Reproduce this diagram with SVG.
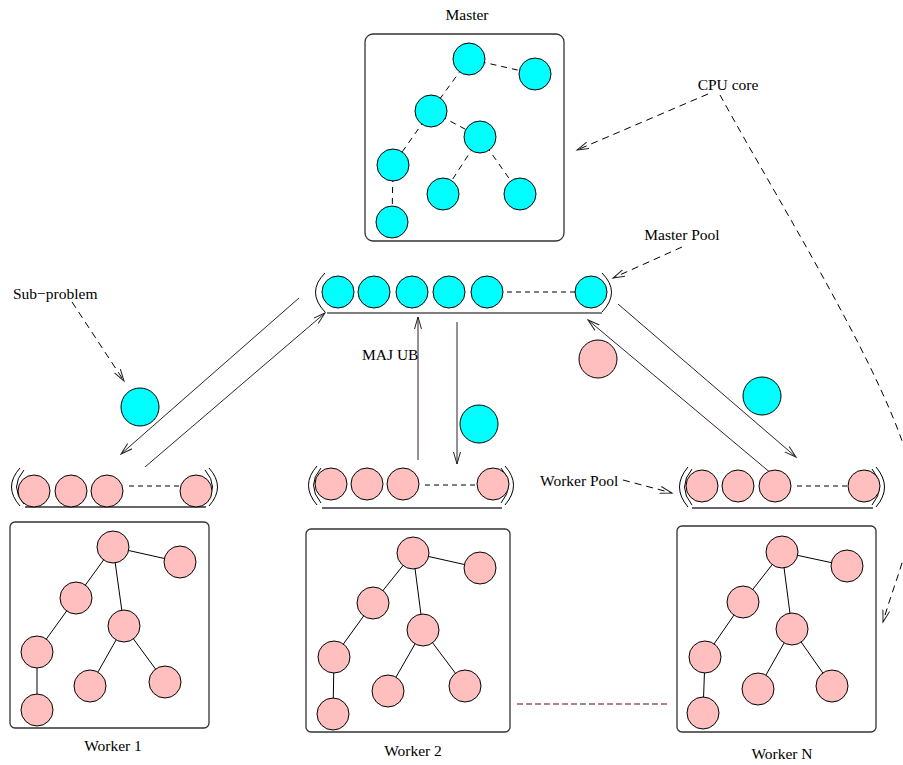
<svg xmlns="http://www.w3.org/2000/svg" width="903" height="765" viewBox="0 0 903 765">
<style>
text{font-family:"Liberation Serif","Times New Roman",serif;font-size:15.5px;fill:#000}
.box{fill:none;stroke:#333;stroke-width:1.3}
.c{fill:#00ffff;stroke:#000;stroke-width:1}
.p{fill:#ffbfbf;stroke:#000;stroke-width:1}
.tdash{stroke:#000;stroke-width:1;stroke-dasharray:6 5;fill:none}
.tsolid{stroke:#000;stroke-width:1;fill:none}
.pdash{stroke:#000;stroke-width:1;stroke-dasharray:5 4;fill:none}
.paren{fill:none;stroke:#000;stroke-width:1}
.wline{stroke:#666;stroke-width:1.8}
.arr{stroke:#332222;stroke-width:1;fill:none;marker-end:url(#ah)}
.darr{stroke:#000;stroke-width:1;stroke-dasharray:7 5;fill:none;marker-end:url(#ah)}
</style>
<defs>
<marker id="ah" markerUnits="userSpaceOnUse" markerWidth="14" markerHeight="10" refX="12" refY="4" orient="auto">
<path d="M0,0.5 L12,4 L0,7.5" fill="none" stroke="#222" stroke-width="1" stroke-dasharray="none"/>
</marker>
</defs>

<g id="connectors">
<line class="tdash" x1="469" y1="59" x2="535" y2="74"/>
<line class="tdash" x1="469" y1="59" x2="431" y2="111"/>
<line class="tdash" x1="431" y1="111" x2="480" y2="137"/>
<line class="tdash" x1="431" y1="111" x2="393" y2="165"/>
<line class="tdash" x1="480" y1="137" x2="443" y2="194"/>
<line class="tdash" x1="480" y1="137" x2="520" y2="194"/>
<line class="tdash" x1="393" y1="165" x2="392" y2="222"/>
<line class="tsolid" x1="113" y1="547" x2="180" y2="562"/>
<line class="tsolid" x1="113" y1="547" x2="76" y2="598"/>
<line class="tsolid" x1="113" y1="547" x2="124" y2="626"/>
<line class="tsolid" x1="76" y1="598" x2="37" y2="652"/>
<line class="tsolid" x1="124" y1="626" x2="90" y2="686"/>
<line class="tsolid" x1="124" y1="626" x2="165" y2="682"/>
<line class="tsolid" x1="37" y1="652" x2="37" y2="710"/>
<line class="tsolid" x1="413" y1="553" x2="480" y2="568"/>
<line class="tsolid" x1="413" y1="553" x2="373" y2="603"/>
<line class="tsolid" x1="413" y1="553" x2="423" y2="630"/>
<line class="tsolid" x1="373" y1="603" x2="334" y2="657"/>
<line class="tsolid" x1="423" y1="630" x2="388" y2="691"/>
<line class="tsolid" x1="423" y1="630" x2="465" y2="686"/>
<line class="tsolid" x1="334" y1="657" x2="333" y2="714"/>
<line class="tsolid" x1="782" y1="552" x2="847" y2="566"/>
<line class="tsolid" x1="782" y1="552" x2="743" y2="602"/>
<line class="tsolid" x1="782" y1="552" x2="792" y2="629"/>
<line class="tsolid" x1="743" y1="602" x2="705" y2="657"/>
<line class="tsolid" x1="792" y1="629" x2="758" y2="689"/>
<line class="tsolid" x1="792" y1="629" x2="832" y2="686"/>
<line class="tsolid" x1="705" y1="657" x2="703" y2="713"/>
<line class="pdash" x1="507" y1="292" x2="575" y2="292"/>
<line class="pdash" x1="129" y1="486" x2="180" y2="486"/>
<line class="pdash" x1="425" y1="485" x2="476" y2="485"/>
<line class="pdash" x1="797" y1="486" x2="848" y2="486"/>
<line class="arr" x1="299" y1="298" x2="121" y2="454"/>
<line class="arr" x1="145" y1="467" x2="325" y2="313"/>
<line class="arr" x1="418" y1="460" x2="418" y2="317"/>
<line class="arr" x1="457" y1="322" x2="457" y2="464"/>
<line class="arr" x1="618" y1="304" x2="796" y2="457"/>
<line class="arr" x1="772" y1="474" x2="588" y2="320"/>
<line class="darr" x1="708" y1="94" x2="577" y2="150"/>
<path class="darr" d="M720,95 C780,205 915,420 914,495 C914,540 895,580 883,622"/>
<line class="darr" x1="682" y1="247" x2="613" y2="278"/>
<line class="darr" x1="72" y1="302" x2="124" y2="381"/>
<path class="darr" d="M623,480 L672,493"/>
<line x1="517" y1="704" x2="668" y2="704" stroke="#5a0e0e" stroke-width="1.2" stroke-dasharray="6 3"/>
</g>

<g id="master">
<text x="467" y="20" text-anchor="middle">Master</text>
<rect class="box" x="365" y="34" width="199" height="207" rx="8"/>
<circle class="c" cx="469" cy="59" r="16"/>
<circle class="c" cx="535" cy="74" r="16"/>
<circle class="c" cx="431" cy="111" r="16"/>
<circle class="c" cx="480" cy="137" r="16"/>
<circle class="c" cx="393" cy="165" r="16"/>
<circle class="c" cx="443" cy="194" r="16"/>
<circle class="c" cx="520" cy="194" r="16"/>
<circle class="c" cx="392" cy="222" r="16"/>
</g>

<g id="master-pool">
<path class="paren" d="M325,273 Q306,292 325,312"/>
<path class="paren" d="M602,273 Q621,292 602,312"/>
<line x1="327" y1="313" x2="602" y2="313" stroke="#000" stroke-width="1.2"/>
<circle class="c" cx="338" cy="292" r="16"/>
<circle class="c" cx="374" cy="292" r="16"/>
<circle class="c" cx="412" cy="292" r="16"/>
<circle class="c" cx="449" cy="292" r="16"/>
<circle class="c" cx="487" cy="292" r="16"/>
<circle class="c" cx="591" cy="292" r="16"/>
</g>

<g id="worker1-pool">
<path class="paren" d="M20,468 Q3,487 20,506"/>
<path class="paren" d="M24,470 Q9,487 24,504"/>
<path class="paren" d="M209,468 Q226,487 209,506"/>
<path class="paren" d="M205,470 Q220,487 205,504"/>
<line class="wline" x1="25" y1="507" x2="206" y2="507"/>
<circle class="p" cx="34" cy="491" r="16"/>
<circle class="p" cx="71" cy="491" r="16"/>
<circle class="p" cx="107" cy="491" r="16"/>
<circle class="p" cx="196" cy="491" r="16"/>
</g>

<g id="worker2-pool">
<path class="paren" d="M317,466 Q300,485 317,505"/>
<path class="paren" d="M321,468 Q306,485 321,503"/>
<path class="paren" d="M505,466 Q522,485 505,505"/>
<path class="paren" d="M501,468 Q516,485 501,503"/>
<line class="wline" x1="322" y1="508" x2="502" y2="508"/>
<circle class="p" cx="331" cy="484" r="16"/>
<circle class="p" cx="367" cy="484" r="16"/>
<circle class="p" cx="403" cy="484" r="16"/>
<circle class="p" cx="493" cy="484" r="16"/>
</g>

<g id="workerN-pool">
<path class="paren" d="M688,467 Q671,487 688,507"/>
<path class="paren" d="M692,469 Q677,487 692,505"/>
<path class="paren" d="M876,467 Q893,487 876,507"/>
<path class="paren" d="M872,469 Q887,487 872,505"/>
<line class="wline" x1="692" y1="508" x2="873" y2="508"/>
<circle class="p" cx="702" cy="486" r="16"/>
<circle class="p" cx="738" cy="486" r="16"/>
<circle class="p" cx="775" cy="486" r="16"/>
<circle class="p" cx="864" cy="486" r="16"/>
</g>

<g id="worker1">
<rect class="box" x="10" y="522" width="199" height="206" rx="5"/>
<circle class="p" cx="113" cy="547" r="16"/>
<circle class="p" cx="180" cy="562" r="16"/>
<circle class="p" cx="76" cy="598" r="16"/>
<circle class="p" cx="124" cy="626" r="16"/>
<circle class="p" cx="37" cy="652" r="16"/>
<circle class="p" cx="90" cy="686" r="16"/>
<circle class="p" cx="165" cy="682" r="16"/>
<circle class="p" cx="37" cy="710" r="16"/>
<text x="113" y="751" text-anchor="middle">Worker 1</text>
</g>

<g id="worker2">
<rect class="box" x="306" y="529" width="204" height="203" rx="5"/>
<circle class="p" cx="413" cy="553" r="16"/>
<circle class="p" cx="480" cy="568" r="16"/>
<circle class="p" cx="373" cy="603" r="16"/>
<circle class="p" cx="423" cy="630" r="16"/>
<circle class="p" cx="334" cy="657" r="16"/>
<circle class="p" cx="388" cy="691" r="16"/>
<circle class="p" cx="465" cy="686" r="16"/>
<circle class="p" cx="333" cy="714" r="16"/>
<text x="413" y="756" text-anchor="middle">Worker 2</text>
</g>

<g id="workerN">
<rect class="box" x="677" y="526" width="199" height="206" rx="5"/>
<circle class="p" cx="782" cy="552" r="16"/>
<circle class="p" cx="847" cy="566" r="16"/>
<circle class="p" cx="743" cy="602" r="16"/>
<circle class="p" cx="792" cy="629" r="16"/>
<circle class="p" cx="705" cy="657" r="16"/>
<circle class="p" cx="758" cy="689" r="16"/>
<circle class="p" cx="832" cy="686" r="16"/>
<circle class="p" cx="703" cy="713" r="16"/>
<text x="782" y="759" text-anchor="middle">Worker N</text>
</g>

<g id="subproblem-tokens">
<circle class="c" cx="140" cy="407" r="19"/>
<circle class="c" cx="479" cy="424" r="19"/>
<circle class="p" cx="598" cy="359" r="19"/>
<circle class="c" cx="762" cy="396" r="19"/>
</g>

<g id="labels">
<text x="728" y="90" text-anchor="middle">CPU core</text>
<text x="682" y="240" text-anchor="middle">Master Pool</text>
<text x="13" y="299">Sub−problem</text>
<text x="362" y="360">MAJ UB</text>
<text x="540" y="486">Worker Pool</text>
</g>
</svg>
